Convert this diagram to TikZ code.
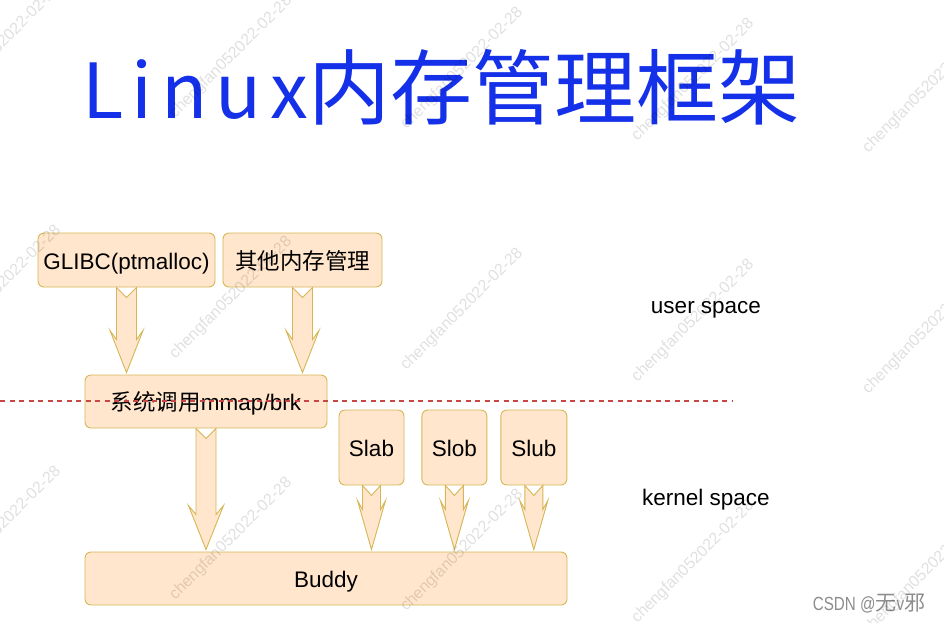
\documentclass[tikz,border=0pt]{standalone}
\usepackage{fontspec}
\usepackage{graphicx}
\setmainfont{Liberation Sans}
\newfontfamily\cjk{Noto Sans CJK SC}
\usetikzlibrary{calc, positioning}

\definecolor{boxfill}{RGB}{255,230,204}
\definecolor{boxline}{RGB}{214,182,86}
\definecolor{titleblue}{RGB}{20,48,232}
\definecolor{sepred}{RGB}{200,70,70}

% fat arrow: from node, to node, shaft half width, head half width, head length
\newcommand\fatarrow[5]{%
  \draw[fatarrow] let \p1=(#1.south), \p2=(#2.north) in
    (\x1-#3,\y1) -- (\x1,\y1-10pt) -- (\x1+#3,\y1)
    -- (\x1+#3,\y2+#5+2pt) -- (\x1+#4,\y2+#5+11pt) -- (\x1,\y2+2pt)
    -- (\x1-#4,\y2+#5+11pt) -- (\x1-#3,\y2+#5+2pt) -- cycle;
}

\begin{document}
\begin{tikzpicture}[
    x=1pt, y=-1pt,
    every node/.style={font=\fontsize{22.5}{27}\selectfont},
    box/.style={draw=boxline, fill=boxfill, rounded corners=6pt, line width=0.9pt, inner sep=0pt,
                text height=20pt, text depth=2pt},
    fatarrow/.style={draw=boxline, fill=boxfill, line width=0.9pt},
    title/.style={font=\cjk\fontsize{82}{90}\selectfont, text=titleblue, anchor=base west, inner sep=0pt},
    spacelabel/.style={anchor=base, inner sep=0pt},
    watermark/.style={font=\fontsize{16}{18}\selectfont, text=black, opacity=0.12, rotate=45},
    node distance=17pt
]
\useasboundingbox (0,0) rectangle (944,622);

% title
\node[title] (title) at (82,118) {{\fontsize{76}{90}\selectfont\addfontfeature{LetterSpace=11}Linux}内存管理框架};

% user space
\node[box, minimum width=177pt, minimum height=54pt] (glibc) at (126.5,260) {GLIBC(ptmalloc)};
\node[box, minimum width=159pt, minimum height=54pt] (other) at (302.5,260) {\cjk 其他内存管理};
\node[box, minimum width=242pt, minimum height=53pt] (syscall) at (206,401.5) {{\cjk 系统调用}mmap/brk};

% kernel space
\node[box, minimum width=65pt, minimum height=75pt] (slab) at (371.5,447.5) {Slab};
\node[box, minimum width=65pt, minimum height=75pt, right=of slab] (slob) {Slob};
\node[box, minimum width=66pt, minimum height=75pt, right=13pt of slob] (slub) {Slub};
\node[box, minimum width=482pt, minimum height=53pt] (buddy) at (326,578.5) {Buddy};

\fatarrow{glibc}{syscall}{10pt}{16.5pt}{33pt}
\fatarrow{other}{syscall}{10pt}{16.5pt}{33pt}
\fatarrow{syscall}{buddy}{10pt}{17.5pt}{35pt}
\fatarrow{slab}{buddy}{9pt}{14pt}{40pt}
\fatarrow{slob}{buddy}{9pt}{14pt}{40pt}
\fatarrow{slub}{buddy}{9pt}{14pt}{40pt}

% user / kernel boundary
\coordinate (sepL) at (0,401);
\coordinate (sepR) at (733,401);
\draw[sepred, line width=1.1pt, dash pattern=on 5pt off 4.5pt] (sepL) -- (sepR);

\node[spacelabel] (user) at (706,313) {user space};
\node[spacelabel] (kernel) at (706,505) {kernel space};

\node[text=black!45] (csdn) at (869,604) {\scalebox{0.8}[1]{\fontsize{19}{20}\selectfont CSDN @}{\cjk\fontsize{21}{22}\selectfont 无}\scalebox{0.8}[1]{\fontsize{19}{20}\selectfont v}{\cjk\fontsize{21}{22}\selectfont 邪}};

\foreach \i in {0,...,4}
  \foreach \j in {0,1,2}
    \node[watermark] (wm-\i-\j) at ({231*\i},{57+241*\j+0.05*(231*\i-231)}) {chengfan052022-02-28};
\end{tikzpicture}
\end{document}
